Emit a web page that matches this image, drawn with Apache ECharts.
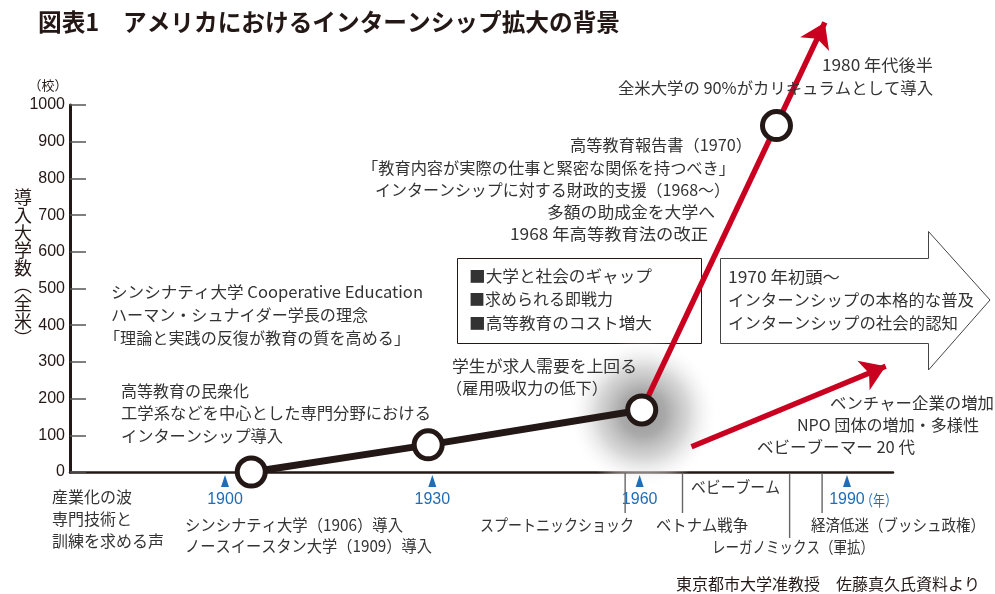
<!DOCTYPE html>
<html><head><meta charset="utf-8">
<script src="https://cdn.jsdelivr.net/npm/echarts@6/dist/echarts.min.js"></script>
<style>html,body{margin:0;padding:0;background:#fff}#c{width:995px;height:594px}</style>
</head><body><div id="c"></div>
<script>
// ---- data ----
const titleText = '図表1　アメリカにおけるインターンシップ拡大の背景';
const yAxisName = ['導','入','大','学','数','︵','全','米','︶'];
const yUnit = '（校）';
const yearTicks = [1900, 1930, 1960, 1990];
const yearUnit = '（年）';
// milestones on the trend (year, number of universities)
const trendBlack = [[1903.8, 0], [1929.4, 74], [1960.3, 169]];
const trendRed = [[1960.3, 169], [1986.8, 1225]];
const milestones = [[1903.8, 0], [1929.4, 74], [1960.3, 169], [1979.8, 944]];
const spotlight = [[1960.5, 160]];
const secondArrow = [[1967.5, 69], [1995.6, 288]];
const yearMarkerLevel = -24.5;
// historical events under the axis (year, label row)
const eventYears = [1957.9, 1966.2, 1981.7, 1986.4];
const eventRows = [1, 1, 2, 1];

// ---- styles ----
const FONT = "'Noto Sans CJK JP', 'Noto Sans', sans-serif";
const NUMFONT = "'Liberation Sans', Arial, sans-serif";
const INK = '#231815';
const TXT = '#333333';
const RED = '#c9001f';
const BLUE = '#1f6db6';

const chart = echarts.init(document.getElementById('c'));
const mctx = document.createElement('canvas').getContext('2d');
function measure(s, size, weight) {
  mctx.font = (weight || 'normal') + ' ' + size + 'px ' + FONT;
  return mctx.measureText(s).width;
}

// width: optional target width in px (text squeezed horizontally to mimic proportional kana)
function txt(s, x, y, align, st, width) {
  const style = Object.assign({
    text: s, fill: TXT, fontSize: 16, fontFamily: FONT,
    verticalAlign: 'middle', textVerticalAlign: 'middle'
  }, st || {});
  style.align = style.textAlign = align || 'left';
  const el = {type: 'text', x: x, y: y, z: 20, silent: true, style: style};
  if (width) {
    const w = measure(s, style.fontSize, style.fontWeight);
    if (w > 0) el.scaleX = Math.min(1.1, width / w);
  }
  return el;
}

const texts = [
  txt(titleText, 38, 22, 'left', {fontSize: 24, fontWeight: 'bold', fill: INK}, 582),
  txt(yUnit, 48, 85, 'center', {fontSize: 13, fill: INK}),
  txt(yAxisName.join('\n'), 23, 268, 'center', {fontSize: 18, lineHeight: 17.6, fill: INK}),
  txt('1980 年代後半', 933, 65, 'right', null, 111),
  txt('全米大学の 90%がカリキュラムとして導入', 933, 88, 'right', null, 315),
  txt('高等教育報告書（1970）', 570, 145, 'left', null, 182),
  txt('「教育内容が実際の仕事と緊密な関係を持つべき」', 362, 168, 'left', null, 373),
  txt('インターンシップに対する財政的支援（1968〜）', 375, 190, 'left', null, 355),
  txt('多額の助成金を大学へ', 547, 212, 'left', null, 168),
  txt('1968 年高等教育法の改正', 510, 234, 'left', null, 198),
  txt('■大学と社会のギャップ', 469, 276, 'left', null, 183),
  txt('■求められる即戦力', 469, 299),
  txt('■高等教育のコスト増大', 469, 323, 'left', null, 183),
  txt('学生が求人需要を上回る', 452, 366, 'left', null, 185),
  txt('（雇用吸収力の低下）', 446, 388, 'left', null, 162),
  txt('シンシナティ大学 Cooperative Education', 111, 292, 'left', null, 312),
  txt('ハーマン・シュナイダー学長の理念', 111, 315, 'left', null, 257),
  txt('「理論と実践の反復が教育の質を高める」', 104, 338, 'left', null, 306),
  txt('高等教育の民衆化', 121, 391),
  txt('工学系などを中心とした専門分野における', 121, 413, 'left', null, 310),
  txt('インターンシップ導入', 121, 436, 'left', null, 162),
  txt('1970 年初頭〜', 728, 277, 'left', null, 112),
  txt('インターンシップの本格的な普及', 728, 300, 'left', null, 246),
  txt('インターンシップの社会的認知', 728, 323, 'left', null, 230),
  txt('ベンチャー企業の増加', 994, 403, 'right', null, 164),
  txt('NPO 団体の増加・多様性', 979, 425, 'right', null, 182),
  txt('ベビーブーマー 20 代', 915, 447, 'right', null, 158),
  txt('産業化の波', 52, 497),
  txt('専門技術と', 52, 519),
  txt('訓練を求める声', 52, 541),
  txt('シンシナティ大学（1906）導入', 185, 525, 'left', null, 218),
  txt('ノースイースタン大学（1909）導入', 185, 546, 'left', null, 247),
  txt('スプートニックショック', 480, 525, 'left', null, 154),
  txt('ベトナム戦争', 656, 525, 'left', null, 92),
  txt('ベビーブーム', 691, 487, 'left', null, 89),
  txt('レーガノミックス（軍拡）', 712, 547, 'left', null, 162),
  txt('経済低迷（ブッシュ政権）', 811, 525, 'left', null, 174),
  txt('東京都市大学准教授　佐藤真久氏資料より', 980, 584, 'right', {fontSize: 15.5, fill: INK}, 304),
  txt(yearUnit, 861, 500, 'left', {fontSize: 15, fill: BLUE}, 36)
];

const shapes = [
  {type: 'rect', z: 1, silent: true, shape: {x: 457.5, y: 258.5, width: 244, height: 85},
   style: {fill: '#fff', stroke: INK, lineWidth: 1}},
  {type: 'polygon', z: 1, silent: true,
   shape: {points: [[720.5, 258.5], [928.5, 258.5], [928.5, 231.5], [990, 300], [928.5, 370], [928.5, 343.5], [720.5, 343.5]]},
   style: {fill: '#fff', stroke: '#444', lineWidth: 1}}
];

const option = {
  animation: false,
  backgroundColor: '#fff',
  grid: {left: 70, right: 102, top: 105, bottom: 122, containLabel: false, outerBoundsMode: 'none'},
  xAxis: {
    type: 'value', min: 1877.57, max: 1996.66,
    axisLine: {show: true, onZero: false, lineStyle: {color: INK, width: 2.5}},
    axisTick: {show: false},
    splitLine: {show: false},
    axisLabel: {customValues: yearTicks, color: BLUE, fontSize: 16, fontFamily: NUMFONT, margin: 20,
      formatter: v => String(v)}
  },
  yAxis: {
    type: 'value', min: 0, max: 1000, interval: 100,
    axisLine: {show: true, lineStyle: {color: INK, width: 3}},
    axisTick: {show: true, inside: true, length: 16, lineStyle: {color: '#555', width: 1.5}},
    splitLine: {show: false},
    axisLabel: {color: INK, fontSize: 16, fontFamily: NUMFONT, margin: 5, formatter: v => String(v)}
  },
  series: [
    {type: 'scatter', z: 1, silent: true, data: spotlight, symbol: 'circle', symbolSize: 150,
     itemStyle: {opacity: 1, color: new echarts.graphic.RadialGradient(0.5, 0.5, 0.5, [
       {offset: 0, color: 'rgba(150,150,150,1)'},
       {offset: 0.3, color: 'rgba(170,170,170,1)'},
       {offset: 0.6, color: 'rgba(205,205,205,0.8)'},
       {offset: 0.85, color: 'rgba(240,240,240,0.4)'},
       {offset: 1, color: 'rgba(255,255,255,0)'}])},
     emphasis: {disabled: true}},
    {type: 'custom', z: 2, silent: true, clip: false,
     data: eventYears.map((y, i) => [y, eventRows[i]]),
     renderItem: (params, api) => {
       const p = api.coord([api.value(0), 0]);
       const len = api.value(1) === 2 ? 66 : 41;
       return {type: 'line', shape: {x1: p[0], y1: p[1] + 1, x2: p[0], y2: p[1] + len},
               style: {stroke: '#666', lineWidth: 1.4}};
     }},
    {type: 'scatter', z: 3, silent: true, clip: false,
     data: yearTicks.map(y => [y, yearMarkerLevel]), symbol: 'triangle', symbolSize: [8, 12],
     itemStyle: {color: BLUE, opacity: 1}, emphasis: {disabled: true}},
    {type: 'line', z: 3, silent: true, data: trendBlack, symbol: 'none', clip: false,
     lineStyle: {color: INK, width: 7}, emphasis: {disabled: true}},
    {type: 'lines', z: 3, silent: true, coordinateSystem: 'cartesian2d', clip: false,
     symbol: ['none', 'arrow'], symbolSize: [30, 24],
     lineStyle: {color: RED, width: 5.5, opacity: 1},
     data: [{coords: trendRed}, {coords: secondArrow}]},
    {type: 'scatter', z: 5, silent: true, clip: false, data: milestones, symbol: 'circle', symbolSize: 28,
     itemStyle: {color: '#fff', borderColor: INK, borderWidth: 5, opacity: 1}, emphasis: {disabled: true}}
  ],
  graphic: {elements: shapes.concat(texts)}
};
chart.setOption(option);
</script>
</body></html>
